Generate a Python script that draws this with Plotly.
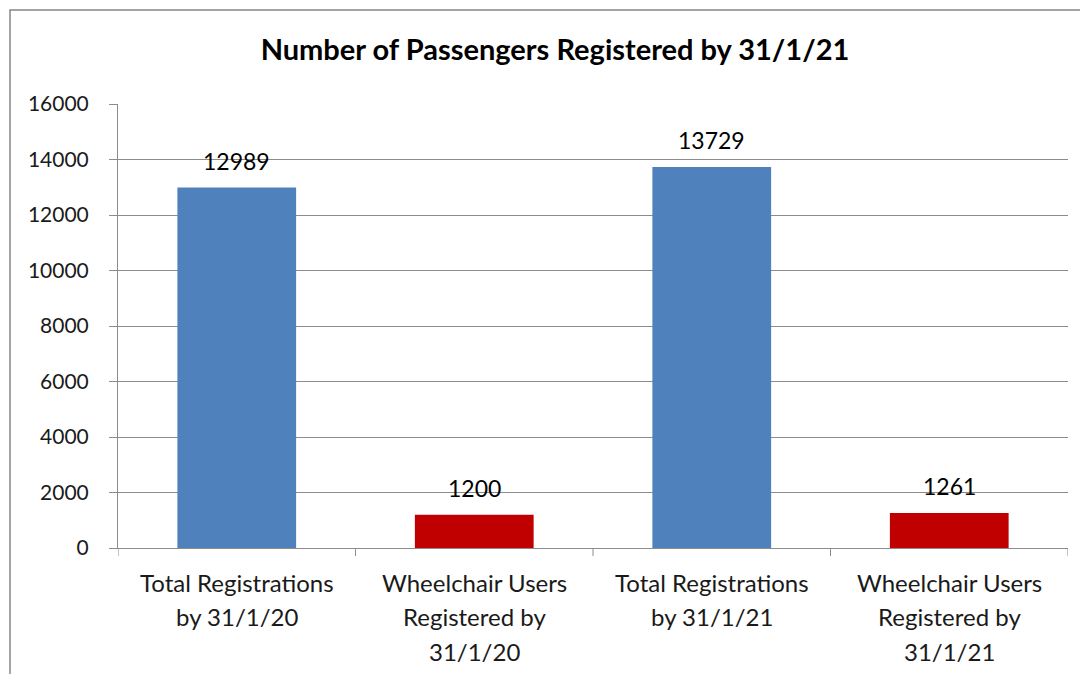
import plotly.graph_objects as go

categories = [
    "Total Registrations<br>by 31/1/20",
    "Wheelchair Users<br>Registered by<br>31/1/20",
    "Total Registrations<br>by 31/1/21",
    "Wheelchair Users<br>Registered by<br>31/1/21",
]
values = [12989, 1200, 13729, 1261]
colors = ["#4F81BD", "#C00000", "#4F81BD", "#C00000"]
y_ticks = [0, 2000, 4000, 6000, 8000, 10000, 12000, 14000, 16000]
title = "Number of Passengers Registered by 31/1/21"

FONT = "Lato"
GRID = "#8C8C8C"
# page has an 8px body margin; figure offset accordingly
W, H = 1080, 666
L, R, T, B = 110, 20, 96, 126
pw, ph = W - L - R, H - T - B

fig = go.Figure()
fig.add_trace(go.Bar(
    x=list(range(len(categories))), y=values,
    marker=dict(color=colors, line=dict(width=0)),
    width=0.5, hoverinfo="skip",
))

ann = []
for i, v in enumerate(values):
    ann.append(dict(x=i, y=v, xref="x", yref="y", text=str(v), showarrow=False,
                    yanchor="bottom", yshift=11,
                    font=dict(family=FONT, size=23, color="#000000")))
for i, c in enumerate(categories):
    for j, line in enumerate(c.split("<br>")):
        ann.append(dict(x=i, y=0, xref="x", yref="paper", text=line, showarrow=False,
                        yanchor="middle", yshift=-(34 + 34.5 * j),
                        font=dict(family=FONT, size=24, color="#1a1a1a")))

fig.update_layout(
    width=W, height=H,
    margin=dict(l=L, r=R, t=T, b=B),
    paper_bgcolor="white", plot_bgcolor="white",
    showlegend=False,
    title=dict(text="<b>" + title + "</b>", x=(547 - L) / pw, xref="paper", xanchor="center",
               y=1 - 42 / H, yref="container", yanchor="middle",
               font=dict(family=FONT, size=29, color="#000000")),
    annotations=ann,
    xaxis=dict(range=[-0.5, 3.5], tickmode="array", tickvals=[0, 1, 2, 3],
               ticktext=["", "", "", ""], showgrid=False,
               showline=True, linecolor=GRID, linewidth=1,
               zeroline=False, fixedrange=True),
    yaxis=dict(range=[0, 16000], tickmode="array", tickvals=y_ticks,
               ticktext=[str(t) for t in y_ticks],
               showgrid=True, gridcolor=GRID, gridwidth=1,
               showline=True, linecolor=GRID, linewidth=1,
               ticks="outside", ticklen=8, tickcolor=GRID,
               ticklabelstandoff=16,
               zeroline=False,
               tickfont=dict(family=FONT, size=21, color="#1a1a1a")),
    shapes=[
        # category boundary ticks
        *[dict(type="line", xref="x", yref="paper", x0=k - 0.5, x1=k - 0.5,
               y0=0, y1=-8 / ph, line=dict(color=GRID, width=1)) for k in range(5)],
        # chart border (left and top edges visible)
        dict(type="rect", xref="paper", yref="paper",
             x0=(2 - L) / pw, x1=(W + 40 - L) / pw,
             y0=-(B + 40) / ph, y1=(T + ph - 2) / ph,
             line=dict(color="#878787", width=1.5)),
    ],
)
fig.write_html("out.html")
